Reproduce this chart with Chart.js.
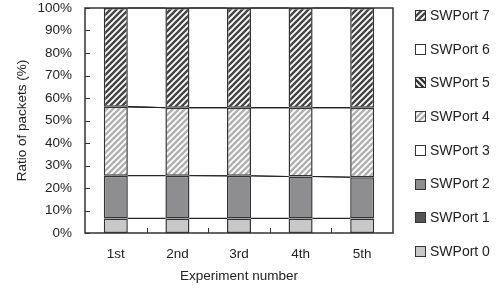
<!DOCTYPE html>
<html><head><meta charset="utf-8">
<script src="https://cdn.jsdelivr.net/npm/chart.js@4/dist/chart.umd.min.js"></script>
<style>html,body{margin:0;padding:0;background:#fff}#wrap{width:503px;height:289px;position:relative}</style>
</head><body><div id="wrap"><canvas id="c" width="503" height="289"></canvas></div>
<script>
const categories = ['1st', '2nd', '3rd', '4th', '5th'];
const seriesNames = ['SWPort 0', 'SWPort 1', 'SWPort 2', 'SWPort 3', 'SWPort 4', 'SWPort 5', 'SWPort 6', 'SWPort 7'];
const swPort0 = [6.5, 6.5, 6.5, 6.5, 6.5];
const swPort1 = [0, 0, 0, 0, 0];
const swPort2 = [19.0, 19.0, 18.9, 18.6, 18.3];
const swPort3 = [0, 0, 0, 0, 0];
const swPort4 = [30.6, 30.2, 30.3, 30.6, 30.9];
const swPort5 = [0, 0, 0, 0, 0];
const swPort6 = [0, 0, 0, 0, 0];
const swPort7 = [43.9, 44.3, 44.3, 44.3, 44.3];
const yTickValues = [0, 10, 20, 30, 40, 50, 60, 70, 80, 90, 100];

function hatch(color, dir) {
  const s = 6;
  const c = document.createElement('canvas');
  c.width = s; c.height = s;
  const g = c.getContext('2d');
  g.fillStyle = '#fff'; g.fillRect(0, 0, s, s);
  g.strokeStyle = color; g.lineWidth = 2.4;
  g.beginPath();
  if (dir === '/') {
    g.moveTo(-1, s + 1); g.lineTo(s + 1, -1);
    g.moveTo(-1, 1); g.lineTo(1, -1);
    g.moveTo(s - 1, s + 1); g.lineTo(s + 1, s - 1);
  } else {
    g.moveTo(-1, -1); g.lineTo(s + 1, s + 1);
    g.moveTo(-1, s - 1); g.lineTo(1, s + 1);
    g.moveTo(s - 1, -1); g.lineTo(s + 1, 1);
  }
  g.stroke();
  return document.getElementById('c').getContext('2d').createPattern(c, 'repeat');
}

const seriesValues = [swPort0, swPort1, swPort2, swPort3, swPort4, swPort5, swPort6, swPort7];
const fills = ['#c8c8c8', '#555555', '#8e8e90', '#ffffff', hatch('#b0b0b0', '/'), hatch('#333333', '\\'), '#ffffff', hatch('#444444', '/')];

const datasets = seriesNames.map((n, i) => ({
  label: n,
  data: seriesValues[i],
  backgroundColor: fills[i],
  borderColor: '#333',
  borderWidth: 1.5,
  borderSkipped: false,
  barPercentage: 0.39,
  categoryPercentage: 1.0
}));

const FONT = '"Liberation Sans", Arial, sans-serif';

const decor = {
  id: 'decor',
  afterDatasetsDraw(chart) {
    const ctx = chart.ctx;
    const a = chart.chartArea;
    ctx.save();
    ctx.strokeStyle = '#222'; ctx.lineWidth = 1;
    chart.data.datasets.forEach((ds, d) => {
      const meta = chart.getDatasetMeta(d);
      for (let i = 0; i < meta.data.length - 1; i++) {
        const b1 = meta.data[i], b2 = meta.data[i + 1];
        ctx.beginPath();
        ctx.moveTo(b1.x + b1.width / 2, b1.y);
        ctx.lineTo(b2.x - b2.width / 2, b2.y);
        ctx.stroke();
      }
    });
    ctx.strokeStyle = '#333'; ctx.lineWidth = 1;
    const ys = chart.scales.y, xs = chart.scales.x;
    yTickValues.forEach(v => {
      const y = Math.round(ys.getPixelForValue(v)) + 0.5;
      ctx.beginPath(); ctx.moveTo(a.left, y); ctx.lineTo(a.left + 5, y); ctx.stroke();
    });
    for (let i = 1; i < categories.length; i++) {
      const x = Math.round((xs.getPixelForValue(i - 1) + xs.getPixelForValue(i)) / 2) + 0.5;
      ctx.beginPath(); ctx.moveTo(x, a.bottom); ctx.lineTo(x, a.bottom - 5); ctx.stroke();
    }
    ctx.strokeStyle = '#333'; ctx.lineWidth = 1.5;
    ctx.strokeRect(a.left, a.top, a.right - a.left, a.bottom - a.top);
    ctx.restore();
  },
  afterDraw(chart) {
    const ctx = chart.ctx;
    ctx.save();
    ctx.font = '14px ' + FONT;
    ctx.textBaseline = 'middle';
    const order = [7, 6, 5, 4, 3, 2, 1, 0];
    order.forEach((d, k) => {
      const cy = 15 + k * 33.7;
      const ds = chart.data.datasets[d];
      ctx.fillStyle = ds.backgroundColor;
      ctx.fillRect(415, Math.round(cy - 5), 10, 10);
      ctx.strokeStyle = '#333'; ctx.lineWidth = 1;
      ctx.strokeRect(415.5, Math.round(cy - 5) + 0.5, 10, 10);
      ctx.fillStyle = '#222';
      ctx.fillText(ds.label, 430, cy + 1);
    });
    ctx.restore();
  }
};

new Chart(document.getElementById('c'), {
  type: 'bar',
  data: { labels: categories, datasets },
  options: {
    responsive: false,
    devicePixelRatio: 1,
    animation: false,
    layout: { padding: { top: 8, right: 110, left: 0, bottom: 0 } },
    plugins: { legend: { display: false }, tooltip: { enabled: false } },
    scales: {
      x: {
        stacked: true,
        grid: { display: false, drawTicks: false },
        border: { display: false },
        ticks: { color: '#222', font: { size: 13.5, family: FONT }, padding: 13 },
        title: { display: true, text: 'Experiment number', color: '#222', font: { size: 13.5, family: FONT }, padding: { top: 0, bottom: 5 } },
        afterFit(s) { s.height = 56; s.paddingLeft = 0; s.paddingRight = 0; }
      },
      y: {
        stacked: true,
        min: 0, max: 100,
        grid: { display: false, drawTicks: false },
        border: { display: false },
        afterBuildTicks(s) { s.ticks = yTickValues.map(v => ({ value: v })); },
        ticks: { color: '#222', font: { size: 13.5, family: FONT }, padding: 13, callback: v => v + '%' },
        title: { display: true, text: 'Ratio of packets (%)', color: '#222', font: { size: 13.5, family: FONT }, padding: { top: 14, bottom: 0 } },
        afterFit(s) { s.width = 85; s.paddingTop = 0; s.paddingBottom = 0; }
      }
    }
  },
  plugins: [decor]
});
</script></body></html>
